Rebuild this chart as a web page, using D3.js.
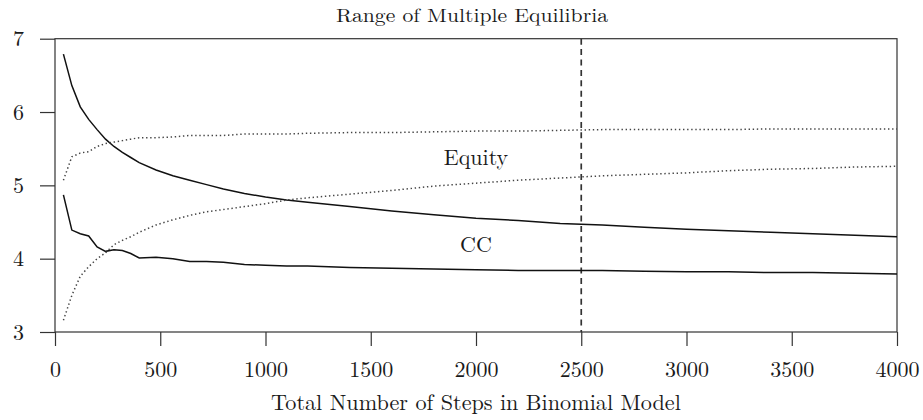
<!DOCTYPE html>
<html>
<head>
<meta charset="utf-8">
<script src="https://cdn.jsdelivr.net/npm/d3@7"></script>
<style>
  html, body { margin: 0; padding: 0; background: #fff; }
</style>
</head>
<body>
<svg id="chart" width="923" height="420"></svg>
<script>
// Steps in the binomial model (x values)
const steps = [40, 80, 120, 160, 200, 240, 280, 320, 360, 400, 480, 560, 640, 720, 800, 900,
  1000, 1100, 1200, 1400, 1600, 1800, 2000, 2200, 2400, 2600, 2800, 3000, 3200, 3400, 3600, 3800, 4000];

// CC range bounds (solid)
const ccHigh = [6.79, 6.36, 6.07, 5.90, 5.76, 5.63, 5.53, 5.45, 5.38, 5.31, 5.21, 5.13, 5.07, 5.01, 4.95, 4.89,
  4.84, 4.80, 4.77, 4.71, 4.65, 4.60, 4.55, 4.52, 4.48, 4.46, 4.43, 4.40, 4.38, 4.36, 4.34, 4.32, 4.30];
const ccLow = [4.87, 4.39, 4.34, 4.31, 4.16, 4.10, 4.12, 4.11, 4.07, 4.01, 4.02, 4.00, 3.96, 3.96, 3.95, 3.92,
  3.91, 3.90, 3.90, 3.88, 3.87, 3.86, 3.85, 3.84, 3.84, 3.84, 3.83, 3.82, 3.82, 3.81, 3.81, 3.80, 3.79];

// Equity range bounds (dotted)
const eqHigh = [5.07, 5.39, 5.44, 5.46, 5.53, 5.57, 5.59, 5.61, 5.63, 5.65, 5.65, 5.66, 5.68, 5.68, 5.68, 5.70,
  5.70, 5.70, 5.71, 5.72, 5.72, 5.73, 5.74, 5.74, 5.75, 5.76, 5.76, 5.76, 5.76, 5.77, 5.77, 5.77, 5.77];
const eqLow = [3.16, 3.50, 3.76, 3.89, 4.00, 4.08, 4.19, 4.25, 4.30, 4.36, 4.46, 4.53, 4.59, 4.64, 4.67, 4.71,
  4.75, 4.80, 4.83, 4.88, 4.93, 4.99, 5.03, 5.07, 5.10, 5.13, 5.15, 5.17, 5.20, 5.22, 5.23, 5.25, 5.26];

const xTicks = [0, 500, 1000, 1500, 2000, 2500, 3000, 3500, 4000];
const yTicks = [3, 4, 5, 6, 7];
const markerStep = 2500;

const FONT = '"Latin Modern Roman", "Liberation Serif", serif';
const INK = '#1a1a1a';

const svg = d3.select('#chart');
const padL = 55, padR = 897, padT = 38.7, padB = 332;

const x = d3.scaleLinear().domain([0, 4000]).range([padL, padR]);
const y = d3.scaleLinear().domain([3, 7]).range([padB, padT]);

// Frame
svg.append('rect')
  .attr('x', padL).attr('y', padT)
  .attr('width', padR - padL).attr('height', padB - padT)
  .attr('fill', 'none').attr('stroke', '#333').attr('stroke-width', 1.2);

// Axes
const yAxis = svg.append('g')
  .attr('transform', `translate(${padL},0)`)
  .call(d3.axisLeft(y).tickValues(yTicks).tickSize(15).tickPadding(16).tickFormat(d3.format('d')));

const xAxis = svg.append('g')
  .attr('transform', `translate(0,${padB})`)
  .call(d3.axisBottom(x).tickValues(xTicks).tickSize(14).tickFormat(d3.format('d')));
xAxis.selectAll('text').attr('y', 45).attr('dy', 0);

[yAxis, xAxis].forEach(ax => {
  ax.attr('font-family', null).attr('font-size', null);
  ax.select('.domain').remove();
  ax.selectAll('line').attr('stroke', '#333').attr('stroke-width', 1.2);
  ax.selectAll('text')
    .style('font-family', FONT)
    .style('font-size', '22px')
    .style('fill', INK);
});

// Vertical dashed marker
svg.append('line')
  .attr('x1', x(markerStep)).attr('x2', x(markerStep))
  .attr('y1', padT).attr('y2', padB)
  .attr('stroke', '#333').attr('stroke-width', 1.7)
  .attr('stroke-dasharray', '6,4.4');

// Lines
const line = vals => d3.line()
  .x((d, i) => x(steps[i]))
  .y(d => y(d))(vals);

[
  { vals: ccHigh, dash: null },
  { vals: ccLow, dash: null },
  { vals: eqHigh, dash: '1.4,2.7' },
  { vals: eqLow, dash: '1.4,2.7' }
].forEach(s => {
  svg.append('path')
    .attr('d', line(s.vals))
    .attr('fill', 'none')
    .attr('stroke', s.dash ? '#444' : '#111')
    .attr('stroke-width', 1.5)
    .attr('stroke-dasharray', s.dash);
});

// Texts
function label(txt, cx, by, size, len) {
  const t = svg.append('text')
    .attr('x', cx).attr('y', by)
    .attr('text-anchor', 'middle')
    .style('font-family', FONT)
    .style('font-size', size + 'px')
    .style('fill', INK)
    .text(txt);
  if (len) t.attr('textLength', len).attr('lengthAdjust', 'spacingAndGlyphs');
}

label('Range of Multiple Equilibria', 472, 22, 19, 272);
label('Total Number of Steps in Binomial Model', 476, 410, 22.2);
label('Equity', 476, 165, 22);
label('CC', 476, 252, 22);
</script>
</body>
</html>
